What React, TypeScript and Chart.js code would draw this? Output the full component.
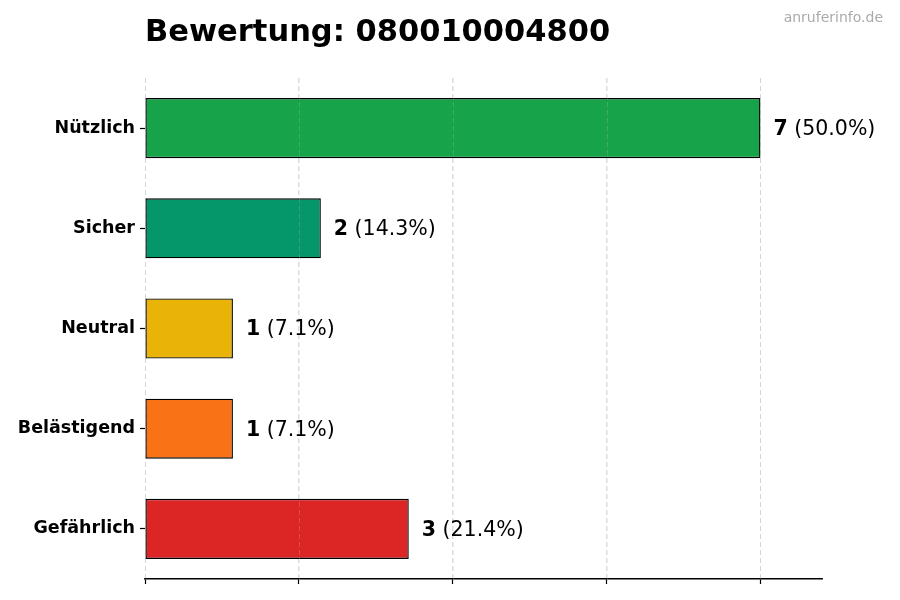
import React, { useEffect, useRef } from 'react';
import { Chart, registerables } from 'chart.js';

Chart.register(...registerables);

const categories = ['Nützlich', 'Sicher', 'Neutral', 'Belästigend', 'Gefährlich'];
const counts = [7, 2, 1, 1, 3];
const barColors = ['#16a34a', '#059669', '#eab308', '#f97316', '#dc2626'];
const xTicks = [0, 1.75, 3.5, 5.25, 7];
const xMax = 7.7;
const titleText = 'Bewertung: 080010004800';
const watermark = 'anruferinfo.de';

const FONT = '"DejaVu Sans", Verdana, sans-serif';

const overlay = {
  id: 'overlay',
  afterDatasetsDraw(chart) {
    const { ctx, chartArea } = chart;
    const meta = chart.getDatasetMeta(0);
    const xs = chart.scales.x;
    const total = counts.reduce((a, b) => a + b, 0);
    ctx.save();
    // faint grid showing through the bars
    ctx.strokeStyle = 'rgba(190,190,190,0.35)';
    ctx.lineWidth = 0.8;
    ctx.setLineDash([5, 3]);
    xTicks.forEach((t) => {
      const px = Math.round(xs.getPixelForValue(t)) + 0.5;
      ctx.beginPath();
      ctx.moveTo(px, chartArea.top);
      ctx.lineTo(px, chartArea.bottom);
      ctx.stroke();
    });
    ctx.setLineDash([]);
    ctx.textBaseline = 'middle';
    meta.data.forEach((bar, i) => {
      const v = counts[i];
      const x = xs.getPixelForValue(v) + 13;
      const y = bar.y + 1.5;
      ctx.fillStyle = '#000';
      ctx.font = `bold 20.5px ${FONT}`;
      const num = String(v);
      ctx.fillText(num, x, y);
      const w = ctx.measureText(num).width;
      ctx.font = `20.5px ${FONT}`;
      ctx.fillText(` (${((v / total) * 100).toFixed(1)}%)`, x + w, y);
    });
    // title
    ctx.textBaseline = 'alphabetic';
    ctx.font = `bold 30.5px ${FONT}`;
    ctx.fillStyle = '#000';
    ctx.textAlign = 'left';
    ctx.fillText(titleText, chartArea.left, 41);
    // watermark
    ctx.font = `14px ${FONT}`;
    ctx.fillStyle = '#aaaaaa';
    ctx.textAlign = 'right';
    ctx.fillText(watermark, 883, 22);
    ctx.restore();
  },
};

const App = () => {
  const canvasRef = useRef(null);

  useEffect(() => {
    const ctx = canvasRef.current.getContext('2d');
    const chart = new Chart(ctx, {
      type: 'bar',
      data: {
        labels: categories,
        datasets: [
          {
            data: counts,
            backgroundColor: barColors,
            borderColor: '#000',
            borderWidth: 1.4,
            borderSkipped: false,
            barPercentage: 0.6,
            categoryPercentage: 1,
          },
        ],
      },
      options: {
        indexAxis: 'y',
        animation: false,
        responsive: false,
        devicePixelRatio: 1,
        layout: { padding: { top: 78, right: 78, left: 0, bottom: 0 } },
        plugins: {
          legend: { display: false },
          tooltip: { enabled: false },
          title: { display: false },
        },
        scales: {
          x: {
            type: 'linear',
            min: 0,
            max: xMax,
            afterBuildTicks: (scale) => {
              scale.ticks = xTicks.map((value) => ({ value }));
            },
            afterFit: (scale) => {
              scale.height = 21;
            },
            ticks: { display: false },
            grid: {
              color: '#d4d4d4',
              lineWidth: 0.8,
              drawTicks: true,
              tickLength: 5,
              tickColor: '#000',
              tickWidth: 1.2,
              tickBorderDash: [],
            },
            border: { display: true, color: '#000', width: 1.4, dash: [5, 3] },
          },
          y: {
            afterFit: (scale) => {
              scale.width = 145;
            },
            ticks: {
              color: '#000',
              padding: 5,
              font: { family: FONT, size: 17.5, weight: 'bold' },
            },
            grid: {
              offset: false,
              drawOnChartArea: false,
              drawTicks: true,
              tickLength: 5,
              tickColor: '#000',
              tickWidth: 1.2,
            },
            border: { display: false },
          },
        },
      },
      plugins: [overlay],
    });

    return () => {
      chart.destroy();
    };
  }, []);

  return (
    <div style={{ position: 'fixed', left: 0, top: 0, width: 900, height: 600, background: '#fff' }}>
      <canvas ref={canvasRef} width="900" height="600" />
    </div>
  );
};

export default App;
